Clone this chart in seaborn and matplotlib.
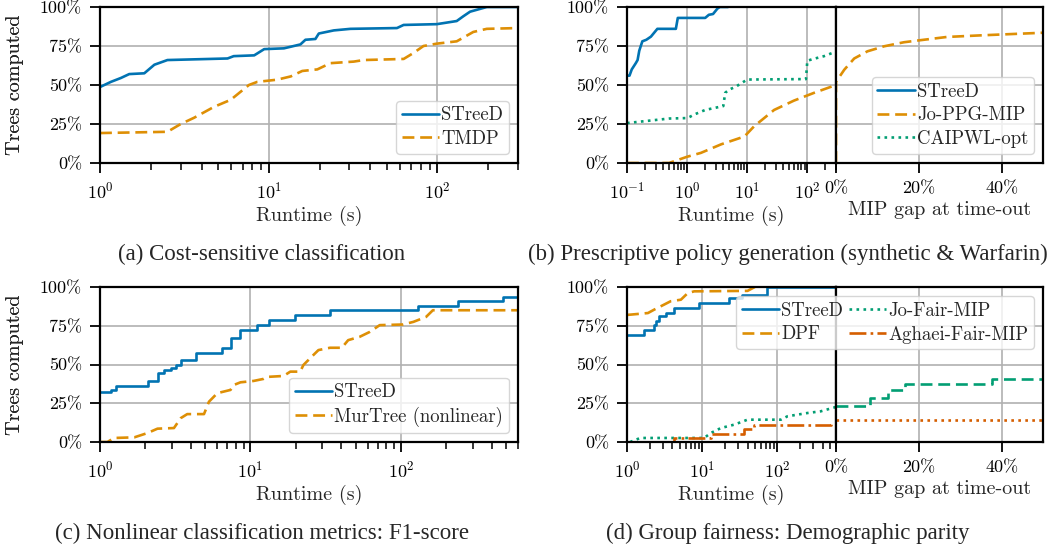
import numpy as np
import matplotlib
matplotlib.use("Agg")
import matplotlib.pyplot as plt
import matplotlib.transforms as mtransforms
from matplotlib.ticker import PercentFormatter, FixedLocator
import seaborn as sns

# colours (seaborn colorblind)
pal = sns.color_palette("colorblind")
BLUE, ORANGE, GREEN, RED = pal[0], pal[1], pal[2], pal[3]

# ---- (a) cost-sensitive classification: runtime (s), % trees computed
a_streed_t = [1.0, 1.16, 1.33, 1.49, 1.83, 2.1, 2.51, 5.7, 6.2, 8.2, 9.4, 12.3, 15.4, 16.5,
              18.9, 19.8, 24.3, 30.5, 57.5, 63, 99, 130, 142, 156, 196, 300]
a_streed_p = [48.7, 52, 54.5, 57, 57.5, 63, 66, 67, 68.5, 69, 73, 73.5, 76, 79, 79.5, 83,
              85, 86, 86.5, 88.5, 89, 91, 94, 97, 100, 100]
a_tmdp_t = [1.0, 2.51, 3.01, 3.61, 4.74, 5.95, 7.63, 8.55, 11.2, 13.5, 15.8, 19.4, 23.2,
            31.9, 36.5, 63, 72, 82.6, 99, 130, 163, 196, 300]
a_tmdp_p = [19.2, 20, 25, 29, 36, 40.5, 50, 52, 53.4, 55.5, 59, 60, 64, 65, 66, 66.7, 70.5,
            75, 76.5, 78, 84, 86, 86.5]

# ---- (b) prescriptive policy generation
b_streed_t = [0.1, 0.11, 0.12, 0.14, 0.15, 0.16, 0.18, 0.21, 0.25, 0.32, 0.65, 0.70, 2.0,
              2.3, 2.7, 3.2, 3.5, 4.8]
b_streed_p = [56, 56, 60, 64, 66, 72, 78, 79, 81, 86, 86, 93, 93, 95, 95.5, 99, 100, 100]
b_jo_t = [0.1, 0.5, 1.0, 1.7, 3.7, 9, 13, 28, 60, 130, 300]
b_jo_p = [0, 0, 4, 6.5, 12, 17, 23.5, 34, 40, 45, 50]
b_caip_t = [0.1, 0.5, 1.0, 1.1, 1.3, 2.0, 4.0, 4.3, 5.0, 6.5, 10, 95, 100, 120, 190, 280]
b_caip_p = [25.6, 28.5, 28.8, 29.5, 31, 34, 36.5, 45, 47, 49, 53.5, 53.8, 65.5, 66.5, 68.5, 71]
# MIP gap at time-out (%)
b_jo_gap = [0, 0, 2, 4.4, 7.6, 11.6, 16.4, 20, 26.8, 34.8, 42.8, 50]
b_jo_gap_p = [0, 52, 59.8, 67, 71.6, 74.8, 77.4, 78.6, 80.8, 81.8, 82.7, 83.5]

# ---- (c) nonlinear classification metrics: F1-score
c_streed_t = [1, 1.18, 1.28, 2.07, 2.43, 2.67, 2.95, 3.19, 3.44, 4.32, 6.49, 7.37, 8.58,
              11.1, 13.2, 19.9, 33.9, 130, 240, 476, 600]
c_streed_p = [32.5, 33.6, 36.2, 39.4, 44.8, 46.5, 47.5, 49.7, 53, 57.2, 60.4, 66.8, 72.4,
              75.6, 78.8, 81.8, 85, 87.8, 90.8, 93.6, 93.6]
c_mur_t = [1, 1.12, 1.24, 1.69, 2.07, 2.41, 3.10, 3.44, 3.80, 4.91, 5.30, 6.02, 7.37, 7.76,
           8.58, 10.5, 12.2, 12.9, 16.6, 18.4, 21.4, 22.5, 25.5, 28.3, 33.8, 40.5, 44.6,
           53.3, 62.0, 72.3, 103, 121, 147, 163, 600]
c_mur_p = [0, 0, 2.6, 3, 5.8, 8.6, 9, 15.4, 18, 18, 26, 31.5, 33.6, 36.8, 38.5, 39.4, 40.7,
           42, 42.6, 45.4, 45.4, 49.7, 55, 59.3, 60.8, 60.8, 65.7, 67.9, 71, 75.4, 75.8,
           77.5, 80.7, 85, 85]

# ---- (d) group fairness: demographic parity
d_streed_t = [1, 1.7, 2.3, 2.45, 2.7, 3.3, 4.25, 9.1, 22.8, 34, 73, 600]
d_streed_p = [68.8, 72, 75.5, 77.8, 81, 83.2, 86.5, 89.7, 92.9, 95, 100, 100]
d_dpf_t = [1, 1.13, 1.9, 2.3, 3.1, 3.8, 5.2, 6.4, 7.8, 40, 50]
d_dpf_p = [82, 82.2, 83.2, 85.4, 88.6, 90.8, 91.8, 96, 97.2, 97.5, 100]
d_jo_t = [1.1, 1.5, 3, 10.6, 13, 17.7, 26.6, 40, 111, 136, 250, 376, 600]
d_jo_p = [0, 2.6, 2.6, 2.6, 5.8, 9, 11.2, 14.4, 14.4, 16.6, 18.7, 19.8, 22.6]
d_agh_t = [3.1, 4.25, 10.6, 13, 26.6, 36, 49, 510, 600]
d_agh_p = [0, 2.6, 2.6, 5.4, 5.4, 8.4, 11.2, 11.8, 14.8]
d_jo_gap = [0, 7.3, 8.1, 11.7, 12.5, 15.8, 16.6, 36, 37.7, 50]
d_jo_gap_p = [23, 23, 28.4, 28.4, 33.8, 33.8, 37.6, 37.6, 40.4, 40.4]
d_agh_gap = [0, 50]
d_agh_gap_p = [14, 14]

sns.set_theme(style="ticks")
plt.rcParams["font.family"] = ["cmr10", "DejaVu Serif"]
plt.rcParams["mathtext.fontset"] = "cm"
plt.rcParams["axes.formatter.use_mathtext"] = True
plt.rcParams["axes.unicode_minus"] = False

W, H = 1063, 550
fig = plt.figure(figsize=(W / 100, H / 100), dpi=100)

TICK_FS, LABEL_FS, LEG_FS, CAP_FS = 13, 14.5, 13.5, 16.5
DASH = (0, (4.5, 2.2))


def px_axes(x0, x1, y0, y1):
    return fig.add_axes([x0 / W, 1 - y1 / H, (x1 - x0) / W, (y1 - y0) / H])


def style(ax, left=True):
    ax.set_ylim(0, 100)
    ax.yaxis.set_major_locator(FixedLocator([0, 25, 50, 75, 100]))
    ax.yaxis.set_major_formatter(PercentFormatter(100, decimals=0))
    ax.grid(True, which="major", color="#b0b0b0", lw=1.2)
    ax.set_axisbelow(True)
    for s in ax.spines.values():
        s.set_color("black")
        s.set_linewidth(1.6)
    ax.tick_params(which="major", direction="out", length=7.5, width=1.3,
                   labelsize=TICK_FS, colors="black", pad=5.5)
    ax.tick_params(which="minor", direction="out", length=5, width=1.1, colors="black")
    if not left:
        ax.tick_params(axis="y", which="both", left=False, labelleft=False)
    else:
        ax.set_ylabel("Trees computed", fontsize=LABEL_FS)
        tr = mtransforms.blended_transform_factory(fig.transFigure, ax.transAxes)
        ax.yaxis.set_label_coords(24 / W, 0.5, transform=tr)


def line(ax, x, y, color, ls, label=None, steps=False):
    sns.lineplot(x=x, y=y, ax=ax, color=color, linestyle=ls, lw=1.9, label=label,
                 estimator=None, sort=False, legend=False,
                 drawstyle="steps-post" if steps else "default")


def runtime_axis(ax, lo, hi):
    ax.set_xscale("log")
    ax.set_xlim(lo, hi)
    ax.set_xlabel("Runtime (s)", fontsize=LABEL_FS, labelpad=3)


def gap_axis(ax):
    ax.set_xlim(0, 50)
    ax.xaxis.set_major_locator(FixedLocator([0, 20, 40]))
    ax.xaxis.set_major_formatter(PercentFormatter(100, decimals=0))
    ax.set_xlabel("MIP gap at time-out", fontsize=LABEL_FS, labelpad=3)


leg_kw = dict(fontsize=LEG_FS, handletextpad=0.1, borderpad=0.3, labelspacing=0.3,
              handlelength=2.0, framealpha=0.8, edgecolor="#cccccc", fancybox=True)

# (a)
ax = px_axes(100, 518, 7, 163)
line(ax, a_streed_t, a_streed_p, BLUE, "-", "STreeD")
line(ax, a_tmdp_t, a_tmdp_p, ORANGE, DASH, "TMDP")
runtime_axis(ax, 1, 300)
style(ax)
ax.legend(loc="lower right", **leg_kw)

# (b)
axl = px_axes(627, 836, 7, 163)
axr = px_axes(836, 1043, 7, 163)
line(axl, b_streed_t, b_streed_p, BLUE, "-", "STreeD")
line(axl, b_jo_t, b_jo_p, ORANGE, DASH, "Jo-PPG-MIP")
line(axl, b_caip_t, b_caip_p, GREEN, ":", "CAIPWL-opt")
line(axr, b_jo_gap, b_jo_gap_p, ORANGE, DASH)
runtime_axis(axl, 0.1, 300)
gap_axis(axr)
style(axl)
style(axr, left=False)
h, l = axl.get_legend_handles_labels()
axr.legend(h, l, loc="lower right", **leg_kw)

# (c)
ax = px_axes(100, 518, 287, 442)
line(ax, c_streed_t, c_streed_p, BLUE, "-", "STreeD", steps=True)
line(ax, c_mur_t, c_mur_p, ORANGE, DASH, "MurTree (nonlinear)")
runtime_axis(ax, 1, 600)
style(ax)
ax.legend(loc="lower right", **leg_kw)

# (d)
axl = px_axes(627, 836, 287, 442)
axr = px_axes(836, 1043, 287, 442)
line(axl, d_streed_t, d_streed_p, BLUE, "-", "STreeD", steps=True)
line(axl, d_dpf_t, d_dpf_p, ORANGE, DASH, "DPF")
line(axl, d_jo_t, d_jo_p, GREEN, ":", "Jo-Fair-MIP")
line(axl, d_agh_t, d_agh_p, RED, "-.", "Aghaei-Fair-MIP", steps=True)
line(axr, d_jo_gap, d_jo_gap_p, GREEN, DASH, steps=True)
line(axr, d_agh_gap, d_agh_gap_p, RED, ":")
runtime_axis(axl, 1, 600)
gap_axis(axr)
style(axl)
style(axr, left=False)
h, l = axl.get_legend_handles_labels()
axr.legend(h, l, loc="upper right", ncol=2, columnspacing=0.3, **leg_kw)

# captions
cap = dict(ha="center", va="center", fontsize=CAP_FS, family="Liberation Serif")
fig.text(262 / W, 1 - 254 / H, "(a) Cost-sensitive classification", **cap)
fig.text(788 / W, 1 - 254 / H, "(b) Prescriptive policy generation (synthetic & Warfarin)", **cap)
fig.text(262 / W, 1 - 533 / H, "(c) Nonlinear classification metrics: F1-score", **cap)
fig.text(788 / W, 1 - 533 / H, "(d) Group fairness: Demographic parity", **cap)

fig.savefig("out.png", dpi=100)
